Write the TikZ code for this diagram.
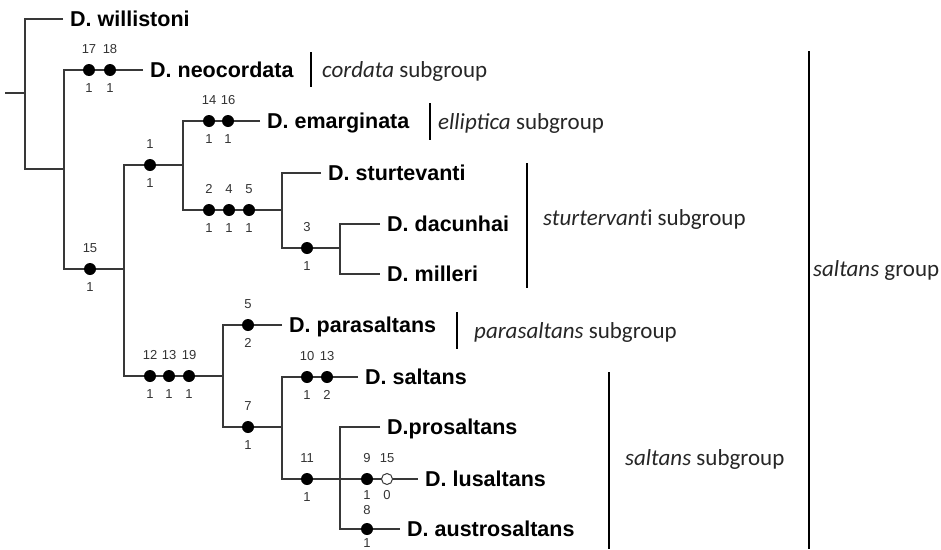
\documentclass[tikz,border=0pt]{standalone}
\usepackage{fontspec}
\setmainfont{Liberation Sans}
\newfontfamily\calfont{Carlito}
\usetikzlibrary{backgrounds}
\newcommand\mkdot[7][18]{%
  \node[#7] (#2) at (#3,#4) {};
  \node[num] (#2t) at (#3,#4-21) {#5};
  \node[num] (#2b) at (#3,#4+#1) {#6};}
\begin{document}
\begin{tikzpicture}[x=1pt,y=-1pt,
  tree/.style={draw=black!78, line width=1.2pt},
  bar/.style={draw=black, line width=2.2pt},
  dotf/.style={circle, fill=black, inner sep=0pt, minimum size=12pt},
  doto/.style={circle, draw=black!78, fill=white, line width=1pt, inner sep=0pt, minimum size=11pt},
  num/.style={font=\fontsize{13}{13}\selectfont, text=black!80, inner sep=0pt, text height=9.3pt, text depth=0pt},
  sp/.style={font=\bfseries\fontsize{21.5}{21.5}\selectfont, anchor=west, inner ysep=0pt, inner xsep=7pt, text height=15pt, text depth=0pt},
  grp/.style={font=\calfont\fontsize{23}{23}\selectfont, text=black!85, anchor=base west, inner sep=0pt}]
\useasboundingbox (0,0) rectangle (941,549);
% junctions
\coordinate (stub) at (5,93);
\coordinate (n0) at (25,93);
\coordinate (n1) at (64,169);
\coordinate (n2) at (124,269);
\coordinate (n3) at (183,165);
\coordinate (n5) at (223,376);
\coordinate (n6) at (282,210);
\coordinate (n7) at (340,248);
\coordinate (n8) at (282,427);
\coordinate (n9) at (340,479);
% species labels
\node[sp] (wil) at (63,19) {D. willistoni};
\node[sp] (neo) at (143,70) {D. neocordata};
\node[sp] (ema) at (260,121) {D. emarginata};
\node[sp] (stu) at (321,173) {D. sturtevanti};
\node[sp] (dac) at (380,224) {D. dacunhai};
\node[sp] (mil) at (380,274) {D. milleri};
\node[sp] (par) at (282,325) {D. parasaltans};
\node[sp] (sal) at (358,377) {D. saltans};
\node[sp] (pro) at (380,427) {D.prosaltans};
\node[sp] (lus) at (418,479) {D. lusaltans};
\node[sp] (aus) at (400,529) {D. austrosaltans};
% tree lines
\begin{scope}[on background layer]
\draw[tree] (stub) -- (n0);
\draw[tree] (wil.west) -| (n0) |- (n1);
\draw[tree] (neo.west) -| (n1) |- (n2);
\draw[tree] (n3) -| (n2) |- (n5);
\draw[tree] (ema.west) -| (n3) |- (n6);
\draw[tree] (stu.west) -| (n6) |- (n7);
\draw[tree] (dac.west) -| (n7) |- (mil.west);
\draw[tree] (par.west) -| (n5) |- (n8);
\draw[tree] (sal.west) -| (n8) |- (lus.west);
\draw[tree] (pro.west) -| (n9) |- (aus.west);
\end{scope}
% character states
\mkdot{c17}{89}{70}{17}{1}{dotf}
\mkdot{c18}{110}{70}{18}{1}{dotf}
\mkdot{c15a}{90}{269}{15}{1}{dotf}
\mkdot{c1}{150}{165}{1}{1}{dotf}
\mkdot{c14}{209}{121}{14}{1}{dotf}
\mkdot{c16}{228}{121}{16}{1}{dotf}
\mkdot{c2}{209}{210}{2}{1}{dotf}
\mkdot{c4}{229}{210}{4}{1}{dotf}
\mkdot{c5}{249}{210}{5}{1}{dotf}
\mkdot{c3}{307}{248}{3}{1}{dotf}
\mkdot{c12}{150}{376}{12}{1}{dotf}
\mkdot{c13}{169}{376}{13}{1}{dotf}
\mkdot{c19}{189}{376}{19}{1}{dotf}
\mkdot{c5b}{248}{325}{5}{2}{dotf}
\mkdot{c7}{248}{427}{7}{1}{dotf}
\mkdot{c10}{307}{377}{10}{1}{dotf}
\mkdot{c13b}{327}{377}{13}{2}{dotf}
\mkdot{c11}{307}{479}{11}{1}{dotf}
\mkdot[16]{c9}{367}{479}{9}{1}{dotf}
\mkdot[16]{c15b}{387}{479}{15}{0}{doto}
\node[dotf] (c8) at (367,529) {};
\node[num] (c8t) at (367,510) {8};
\node[num] (c8b) at (367,543) {1};
% group bars
\draw[bar] (311,52) -- (311,87);
\draw[bar] (430,103) -- (430,140);
\draw[bar] (527,163) -- (527,288);
\draw[bar] (457,312) -- (457,349);
\draw[bar] (609,372) -- (609,549);
\draw[bar] (809,51) -- (809,549);
% group labels
\node[grp] (gcor) at (322,77) {\textit{cordata} subgroup};
\node[grp] (gell) at (438,129) {\textit{elliptica} subgroup};
\node[grp] (gstu) at (543,225) {\textit{sturtervant}i subgroup};
\node[grp] (gpar) at (474,338) {\textit{parasaltans} subgroup};
\node[grp] (gsal) at (625,465) {\textit{saltans} subgroup};
\node[grp] (gsg) at (813,276) {\textit{saltans} group};
\end{tikzpicture}
\end{document}
